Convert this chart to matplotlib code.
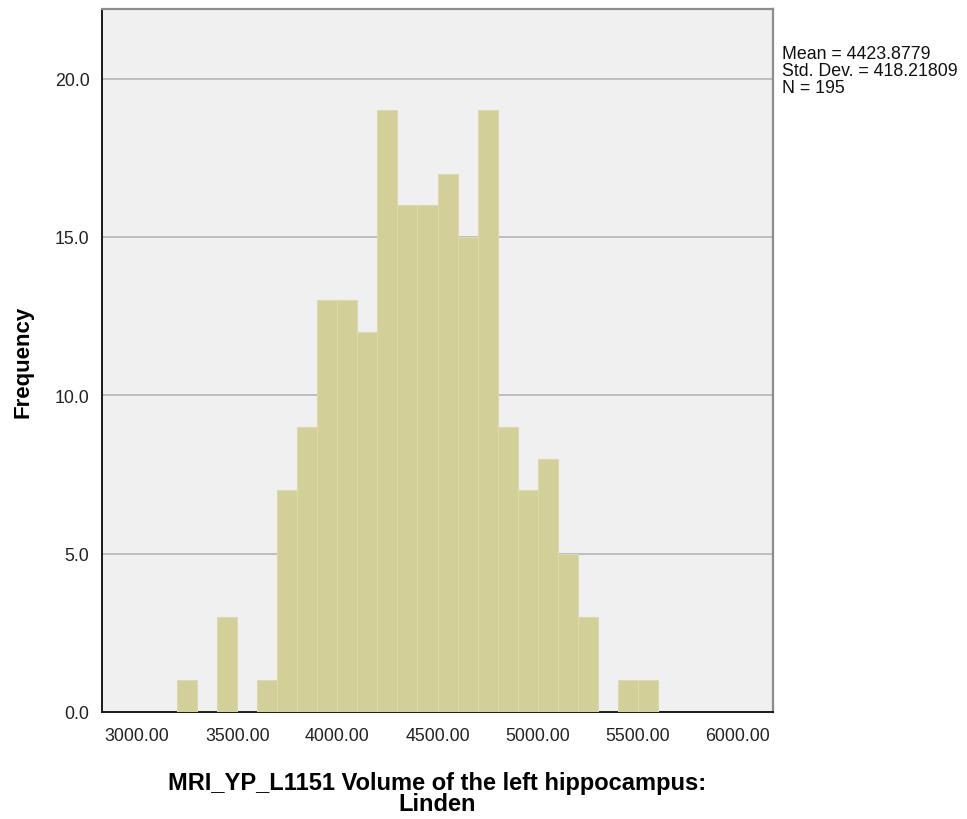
import matplotlib
matplotlib.use("Agg")
import matplotlib.pyplot as plt

# histogram counts, bins of 100 starting at 3200
bin_left = [3200, 3300, 3400, 3500, 3600, 3700, 3800, 3900, 4000, 4100, 4200, 4300,
            4400, 4500, 4600, 4700, 4800, 4900, 5000, 5100, 5200, 5300, 5400, 5500]
counts = [1, 0, 3, 0, 1, 7, 9, 13, 13, 12, 19, 16,
          16, 17, 15, 19, 9, 7, 8, 5, 3, 0, 1, 1]
bin_width = 100

x_ticks = [3000, 3500, 4000, 4500, 5000, 5500, 6000]
y_ticks = [0, 5, 10, 15, 20]
stats_lines = ["Mean = 4423.8779", "Std. Dev. = 418.21809", "N = 195"]

plt.rcParams['font.family'] = ['Liberation Sans', 'DejaVu Sans']

fig = plt.figure(figsize=(9.67, 8.2), dpi=100)
ax = fig.add_axes([0.1055, 0.1305, 0.6939, 0.8573])
ax.set_facecolor('#f0f0f0')

ax.bar(bin_left, counts, width=bin_width, align='edge', color='#d3cf98',
       edgecolor='#dcd9ad', linewidth=0.8, zorder=3)

ax.set_xlim(2825, 6175)
ax.set_ylim(0, 22.2)
ax.set_xticks(x_ticks)
ax.set_xticklabels([f"{v:.2f}" for v in x_ticks])
ax.set_yticks(y_ticks)
ax.set_yticklabels([f"{v:.1f}" for v in y_ticks])
ax.tick_params(length=0, labelsize=12.8, colors='#222222')
ax.tick_params(axis='x', pad=11)
ax.tick_params(axis='y', pad=9)
ax.yaxis.grid(True, color='#b4b4b4', linewidth=1.2, zorder=1)
ax.set_axisbelow(True)

for side in ['left', 'bottom']:
    ax.spines[side].set_color('#1a1a1a')
    ax.spines[side].set_linewidth(1.4)
for side in ['top', 'right']:
    ax.spines[side].set_color('#8c8c8c')
    ax.spines[side].set_linewidth(1.6)

ax.set_ylabel("Frequency", fontsize=16, fontweight='bold', labelpad=15)
ax.set_xlabel("MRI_YP_L1151 Volume of the left hippocampus:\nLinden",
              fontsize=17, fontweight='bold', labelpad=19, linespacing=0.9)

fig.text(0.8087, 0.944, "\n".join(stats_lines), fontsize=12.8, va='top',
         ha='left', linespacing=1.02, color='#111111')

fig.savefig("out.png", dpi=100)
